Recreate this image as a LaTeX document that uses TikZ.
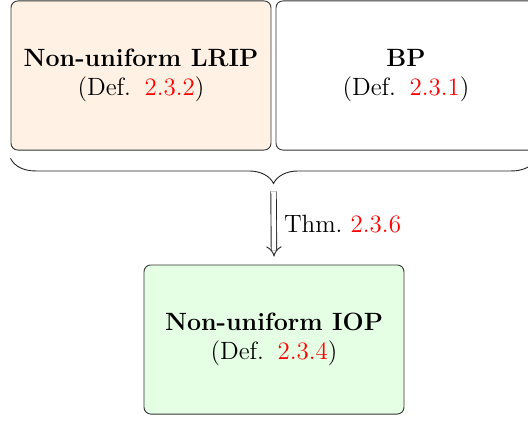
\documentclass[tikz,border=0pt]{standalone}
\usetikzlibrary{positioning,decorations.pathreplacing,arrows.meta}
\begin{document}
\begin{tikzpicture}[x=0.44pt,y=0.44pt,
    font=\fontsize{11}{13}\selectfont,
    defbox/.style={draw=black!80, rounded corners=3pt, align=center,
        minimum width=114.4pt, minimum height=65.6pt, inner sep=0pt}]
    \useasboundingbox (0,0) rectangle (528,421);

    % Definitions on top
    \node[defbox, fill=orange!10] (lrip) at (141,345.5)
        {\textbf{Non-uniform LRIP}\\(Def.\hspace{6pt}\textcolor{red}{2.3.2})};
    \node[defbox, fill=white] (bp) at (406,345.5)
        {\textbf{BP}\\(Def.\hspace{6pt}\textcolor{red}{2.3.1})};

    % Result
    \node[defbox, fill=green!10] (iop) at (274,81.5)
        {\textbf{Non-uniform IOP}\\(Def.\hspace{6pt}\textcolor{red}{2.3.4})};

    % Brace under both definitions
    \draw[decorate, decoration={brace, mirror, amplitude=11pt}, black!85]
        ([yshift=-3.5pt]lrip.south west) -- ([yshift=-3.5pt]bp.south east)
        coordinate[pos=0.5] (mid);
    \coordinate (tip) at ([yshift=-11pt]mid);

    % Implication
    \draw[double, double distance=2pt, -{Implies[scale=1.5]}, black!85]
        ([yshift=-3.5pt]tip) -- ([yshift=3.5pt]iop.north)
        node[midway, right=1pt, text=black] {Thm.~\textcolor{red}{2.3.6}};
\end{tikzpicture}
\end{document}
